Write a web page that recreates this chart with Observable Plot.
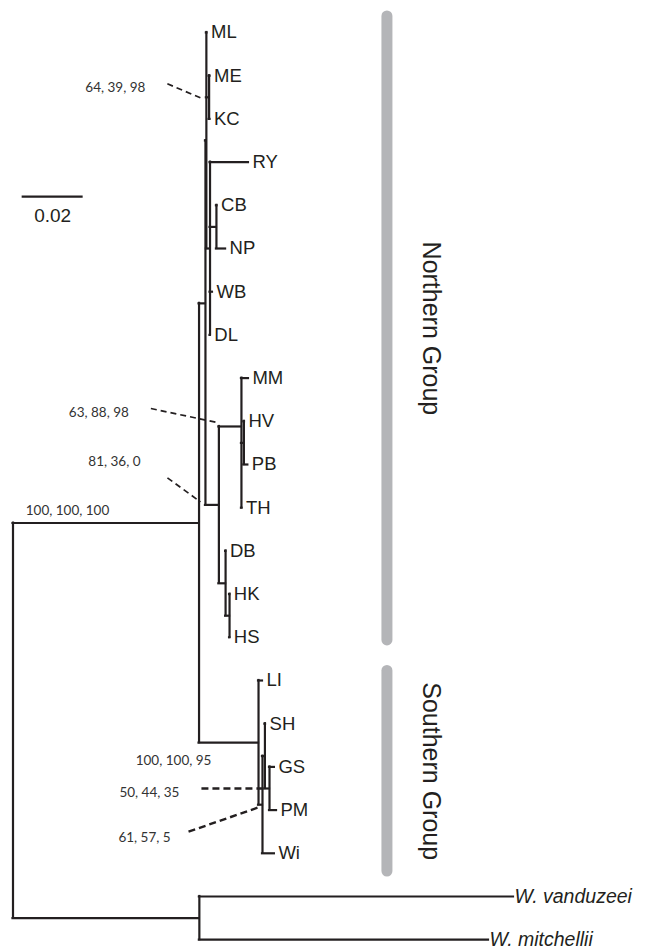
<!DOCTYPE html>
<html>
<head>
<meta charset="utf-8">
<script src="https://cdn.jsdelivr.net/npm/d3@7"></script>
<script src="https://cdn.jsdelivr.net/npm/@observablehq/plot@0.6"></script>
<style>
  html, body { margin: 0; padding: 0; background: #fff; }
  #chart svg { display: block; }
</style>
</head>
<body>
<div id="chart"></div>
<script>
// ---------------- DATA ----------------
// Tip order, top to bottom
const tips = ["ML","ME","KC","RY","CB","NP","WB","DL","MM","HV","PB","TH","DB","HK","HS","LI","SH","GS","PM","Wi","W. vanduzeei","W. mitchellii"];
const italicTips = ["W. vanduzeei","W. mitchellii"];

// Tree edges: child, parent, branch length (substitutions/site)
const edgeChild  = ["I","O","N","S","T","A","ML","MEKC","RYn","ME","KC","RY","CBNP","WB","DL","CB","NP","H","DBn","MM","HVPB","TH","HV","PB","DB","HKHS","HK","HS","LI","S2","S3","Wi","SH","GP","GS","PM","W. vanduzeei","W. mitchellii"];
const edgeParent = ["R","R","I","I","N","N","T","T","T","MEKC","MEKC","RYn","RYn","RYn","RYn","CBNP","CBNP","A","A","H","H","H","HVPB","HVPB","DBn","DBn","HKHS","HKHS","S","S","S2","S2","S3","S3","GP","GP","O","O"];
const edgeLength = [0.0610,0.0611,0.0021,0.0195,0.0003,0.0044,0.0002,0.0009,0.0012,0.0003,0.0003,0.0126,0.0021,0.0008,0.0001,0.0002,0.0030,0.0074,0.0022,0.0023,0.0008,0.0002,0.0002,0.0013,0.0001,0.0013,0.0001,0.0001,0.0013,0.0013,0.0008,0.0039,0.0002,0.0015,0.0016,0.0023,0.1030,0.0948];

// Internal nodes drawn off-centre in the figure (tip-order units)
const offsetNodes = ["N","H"];
const offsetNodeY = [6.27, 9.12];

// Bootstrap / support values and the node they belong to
const supportText = ["64, 39, 98","63, 88, 98","81, 36, 0","100, 100, 100","100, 100, 95","50, 44, 35","61, 57, 5"];
const supportNode = ["MEKC","H","A","I","S","GP","S2"];

// Clade groups (extent in tip-order units)
const groupNames = ["Northern Group","Southern Group"];
const groupStart = [-0.5, 14.65];
const groupEnd   = [14.2, 19.55];

// Scale bar length
const scaleBarLength = 0.02;
const scaleBarLabel = "0.02";

// ---------------- TREE LAYOUT ----------------
const nodes = new Map();
function getNode(id) {
  if (!nodes.has(id)) nodes.set(id, {id, children: [], parent: null, len: 0});
  return nodes.get(id);
}
edgeChild.forEach((c, i) => {
  const n = getNode(c), p = getNode(edgeParent[i]);
  n.parent = p; n.len = edgeLength[i];
  p.children.push(n);
});
const root = getNode("R");
(function setX(n, x) { n.x = x; n.children.forEach(c => setX(c, x + c.len)); })(root, 0);
(function setY(n) {
  if (n.children.length === 0) { n.y = tips.indexOf(n.id); return; }
  n.children.forEach(setY);
  const ys = n.children.map(c => c.y);
  n.ymin = d3.min(ys); n.ymax = d3.max(ys);
  const k = offsetNodes.indexOf(n.id);
  n.y = k >= 0 ? offsetNodeY[k] : (n.ymin + n.ymax) / 2;
})(root);

const all = [...nodes.values()];
const branches = all.filter(n => n.parent).map(n => ({x1: n.parent.x, x2: n.x, y: n.y}));
const verticals = all.filter(n => n.children.length).map(n => ({x: n.x, y1: n.ymin, y2: n.ymax}));
const tipNodes = all.filter(n => n.children.length === 0);

// ---------------- SCALES ----------------
const W = 649, H = 952;
const xDomain = [0, 0.2], xRange = [12.5, 622.5];
const yDomain = [0, 21], yRange = [32, 939.2];
const pxX = (xRange[1] - xRange[0]) / (xDomain[1] - xDomain[0]);
const pxY = (yRange[1] - yRange[0]) / (yDomain[1] - yDomain[0]);

// annotation layout (pixel offsets from the base of each supported branch)
const labelLayout = {
  "MEKC": {lab: [-91, -9.5], dash: [[-39, -13.5], [-6, 0.5]], w: 1.7},
  "H":    {lab: [-120, -14], dash: [[-68, -18], [-2, -4]], w: 1.7},
  "A":    {lab: [-91, -43],  dash: [[-38, -27], [-5, -3]], w: 1.7},
  "I":    {lab: [54.5, -12]},
  "S":    {lab: [-25.5, 18]},
  "GP":   {lab: [-115.5, 4], dash: [[-63.5, 0], [0.5, 0]], w: 2.4},
  "S2":   {lab: [-114, 33],  dash: [[-70, 27], [-1, 3]], w: 2.4}
};

const supportMarks = [];
const dashes = [];
supportText.forEach((t, i) => {
  const n = nodes.get(supportNode[i]);
  const bx = n.parent.x, by = n.y;
  const L = labelLayout[supportNode[i]];
  supportMarks.push(Plot.text([{x: bx, y: by, t}], {
    x: "x", y: "y", text: "t", dx: L.lab[0], dy: L.lab[1],
    fontFamily: "Lato, 'Open Sans', sans-serif", fontSize: 13.5, fill: "#333",
    textAnchor: "middle", lineAnchor: "middle"
  }));
  if (L.dash) {
    dashes.push({
      x1: bx + L.dash[0][0] / pxX, y1: by + L.dash[0][1] / pxY,
      x2: bx + L.dash[1][0] / pxX, y2: by + L.dash[1][1] / pxY, w: L.w
    });
  }
});

const capInset = 5.5 / pxY;
const groups = groupNames.map((g, i) => ({
  name: g, y1: groupStart[i] + capInset, y2: groupEnd[i] - capInset,
  mid: (groupStart[i] + groupEnd[i]) / 2
}));
const groupBarX = 0.1226;

const scaleBar = [{x1: 0.003, x2: 0.003 + scaleBarLength, y: 3.8, label: scaleBarLabel}];

const ink = "#231f20";
const sansFont = "'Liberation Sans', Arial, Helvetica, sans-serif";

const chart = Plot.plot({
  width: W, height: H,
  marginTop: 0, marginBottom: 0, marginLeft: 0, marginRight: 0,
  x: {domain: xDomain, range: xRange, axis: null},
  y: {domain: yDomain, range: yRange, axis: null},
  marks: [
    Plot.ruleX(groups, {x: () => groupBarX, y1: "y1", y2: "y2", stroke: "#b4b5b8", strokeWidth: 11, strokeLinecap: "round"}),
    Plot.text(groups, {x: () => groupBarX, y: "mid", text: "name", rotate: 90, dx: 44,
      fontFamily: sansFont, fontSize: 25, fill: ink, textAnchor: "middle", lineAnchor: "middle"}),
    Plot.link(dashes.filter(d => d.w < 2), {x1: "x1", y1: "y1", x2: "x2", y2: "y2", stroke: ink, strokeWidth: 1.7, strokeDasharray: "6,4"}),
    Plot.link(dashes.filter(d => d.w >= 2), {x1: "x1", y1: "y1", x2: "x2", y2: "y2", stroke: ink, strokeWidth: 2.4, strokeDasharray: "7,4"}),
    Plot.ruleX(verticals, {x: "x", y1: "y1", y2: "y2", stroke: ink, strokeWidth: 2.2, strokeLinecap: "square"}),
    Plot.ruleY(branches, {y: "y", x1: "x1", x2: "x2", stroke: ink, strokeWidth: 2.2, strokeLinecap: "square"}),
    Plot.text(tipNodes.filter(d => !italicTips.includes(d.id)), {x: "x", y: "y", text: "id", dx: 4,
      textAnchor: "start", lineAnchor: "middle", fontFamily: sansFont, fontSize: 18.5, fill: ink}),
    Plot.text(tipNodes.filter(d => italicTips.includes(d.id)), {x: "x", y: "y", text: "id", dx: 1,
      textAnchor: "start", lineAnchor: "middle", fontFamily: sansFont, fontSize: 19.5, fontStyle: "italic", fill: ink}),
    ...supportMarks,
    Plot.ruleY(scaleBar, {y: "y", x1: "x1", x2: "x2", stroke: ink, strokeWidth: 2.2}),
    Plot.text(scaleBar, {x: d => (d.x1 + d.x2) / 2, y: "y", text: "label", dy: 19,
      fontFamily: sansFont, fontSize: 19, fill: ink, textAnchor: "middle", lineAnchor: "middle"})
  ]
});
document.getElementById("chart").appendChild(chart);
</script>
</body>
</html>
